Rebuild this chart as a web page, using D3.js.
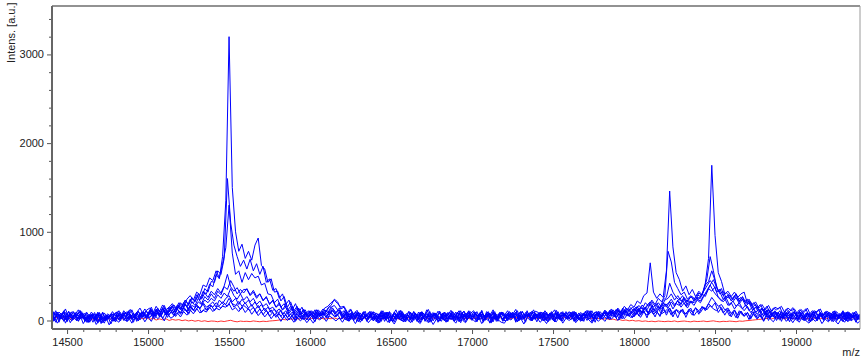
<!DOCTYPE html>
<html>
<head>
<meta charset="utf-8">
<script src="https://cdn.jsdelivr.net/npm/d3@7/dist/d3.min.js"></script>
<style>
  html, body { margin: 0; padding: 0; background: #fff; }
  svg { display: block; }
  text { font-family: "Liberation Sans", Arial, sans-serif; }
</style>
</head>
<body>
<svg id="chart" width="865" height="363"></svg>
<script>
// m/z sampling grids (every 20, two interleaved sample positions)
const mzGridA = d3.range(14400, 19401, 20);
const mzGridB = d3.range(14410, 19411, 20);

const xMajorTicks = [14500, 15000, 15500, 16000, 16500, 17000, 17500, 18000, 18500, 19000];
const yMajorTicks = [0, 1000, 2000, 3000];
const xAxisLabel = "m/z";
const yAxisLabel = "Intens. [a.u.]";

const trace1 = [
  70, -5, 95, 20, 60, -15, 85, 10, 55, 100,
  15, 80, -20, 65, 5, 90, -10, 50, 25, 75,
  -15, 70, 30, 95, 0, 60, 20, 105, 35, 80,
  40, 120, 55, 140, 70, 110, 60, 150, 90, 170,
  120, 200, 150, 240, 190, 290, 230, 330, 300, 410,
  380, 520, 470, 720, 1350, 3200, 1500, 1000, 780, 860,
  700, 780, 680, 850, 930, 620, 580, 430, 470, 320,
  330, 220, 270, 150, 210, 110, 160, 70, 130, 60,
  110, 40, 120, 55, 95, 30, 110, 140, 80, 120,
  30, 95, 10, 80, 25, 90, -5, 70, 15, 85,
  10, 75, -10, 90, 20, 60, -15, 85, 5, 70,
  25, 95, 0, 70, -20, 80, 15, 100, -5, 65,
  20, 85, -10, 60, 30, 95, 5, 75, -15, 90,
  15, 70, 40, 105, 0, 65, -20, 80, 25, 95,
  10, 85, 30, 60, -10, 90, 20, 110, 5, 70,
  -15, 75, 25, 95, 0, 80, 15, 65, -5, 100,
  20, 90, -10, 70, 35, 105, 10, 60, -20, 85,
  30, 95, 15, 110, 40, 80, 20, 120, 50, 95,
  40, 130, 60, 110, 30, 140, 70, 105, 45, 150,
  60, 140, 40, 120, 75, 130, 35, 115, 60, 145,
  70, 160, 110, 190, 150, 200, 90, 145, 60, 125,
  40, 115, 25, 105, 50, 90, 15, 100, 30, 80,
  -10, 85, 20, 95, 0, 75, 30, 90, -15, 70,
  25, 100, 5, 80, -10, 90, 15, 70, 35, 95,
  -5, 80, 20, 65, 0, 90, -15, 75, 25, 60,
  40
];

const trace2 = [
  30, 90, -20, 75, 10, 105, 25, 60, -10, 85,
  45, -15, 70, 0, 95, 20, -30, 60, 10, 80,
  35, -5, 90, 15, 65, -20, 85, 40, 100, 20,
  110, 45, 130, 60, 145, 80, 125, 170, 95, 180,
  150, 230, 170, 260, 210, 300, 250, 360, 320, 440,
  430, 560, 520, 700, 1600, 1100, 850, 720, 610, 680,
  580, 690, 560, 640, 520, 610, 430, 470, 340, 360,
  250, 300, 180, 230, 120, 190, 90, 150, 60, 110,
  40, 120, 30, 100, 70, 140, 170, 240, 210, 130,
  150, 60, 120, 30, 95, 10, 80, 40, 105, -5,
  60, 0, 85, 25, 100, -15, 70, 15, 90, 35,
  -10, 80, 20, 95, 5, 65, -25, 75, 30, 105,
  50, -5, 90, 10, 70, 30, 110, 0, 80, 20,
  95, 15, 60, -20, 85, 25, 100, 5, 70, -10,
  75, 35, 95, -5, 60, 20, 90, 40, 105, 10,
  85, 0, 70, 30, 100, -15, 80, 15, 65, 45,
  5, 90, 25, 70, -10, 95, 35, 80, 10, 100,
  60, 20, 100, 45, 85, 10, 115, 55, 90, 30,
  120, 50, 95, 140, 65, 110, 40, 130, 75, 100,
  135, 60, 110, 30, 120, 70, 95, 140, 55, 105,
  90, 150, 120, 170, 130, 110, 160, 85, 125, 50,
  95, 30, 110, 60, 85, 10, 100, 40, 75, 20,
  90, 0, 70, 35, 95, -10, 80, 25, 60, 100,
  15, 85, -5, 75, 30, 95, 0, 65, 20, 90,
  40, 105, 10, 80, -15, 70, 25, 90, 5, 60,
  35
];

const trace3 = [
  100, 20, 75, 45, 110, 0, 90, 30, 65, 115,
  25, 95, 40, 70, -10, 85, 15, 60, 35, 100,
  50, 110, 25, 85, 60, 120, 35, 90, 70, 130,
  80, 150, 60, 120, 100, 170, 85, 140, 175, 120,
  200, 160, 240, 280, 230, 320, 290, 400, 380, 480,
  450, 560, 480, 640, 820, 1300, 760, 520, 560, 430,
  540, 460, 530, 480, 500, 400, 420, 300, 290, 200,
  240, 150, 190, 110, 160, 80, 140, 60, 120, 50,
  100, 40, 120, 80, 130, 95, 160, 130, 90, 140,
  60, 120, 35, 95, 20, 80, 45, 105, 10, 75,
  90, 25, 110, 40, 80, 0, 95, 50, 115, 30,
  70, 10, 100, 45, 85, 20, 120, 55, 90, 5,
  105, 40, 80, 15, 95, 60, 110, 25, 85, 45,
  0, 90, 35, 115, 20, 75, 50, 100, 10, 95,
  60, 110, 25, 85, 45, 100, 15, 90, 55, 120,
  30, 95, 70, 10, 85, 40, 115, 20, 80, 50,
  100, 35, 90, 5, 75, 55, 110, 30, 95, 70,
  40, 115, 60, 100, 85, 130, 50, 120, 90, 145,
  100, 160, 80, 140, 120, 185, 95, 170, 130, 200,
  150, 210, 130, 190, 170, 230, 160, 220, 200, 260,
  240, 300, 270, 360, 330, 380, 260, 220, 250, 170,
  200, 130, 180, 150, 110, 160, 90, 130, 70, 110,
  50, 120, 30, 95, 60, 110, 20, 90, 40, 100,
  70, 10, 95, 35, 80, 0, 105, 45, 75, 25,
  90, 30, 110, 15, 80, 50, 100, 5, 85, 40,
  70
];

const trace4 = [
  -20, 55, 10, 80, -30, 60, 25, 90, -5, 45,
  30, -25, 65, 5, 80, -35, 50, 10, 70, -10,
  60, 15, 85, -15, 70, 30, 95, 5, 75, 40,
  90, 30, 115, 55, 130, 60, 150, 85, 120, 165,
  110, 180, 130, 210, 170, 250, 190, 270, 230, 300,
  250, 330, 290, 380, 350, 450, 380, 300, 350, 310,
  360, 290, 340, 270, 300, 230, 260, 190, 220, 150,
  180, 120, 150, 80, 130, 60, 110, 40, 95, 30,
  80, 20, 100, 50, 120, 90, 150, 170, 120, 80,
  110, 30, 85, 0, 70, 40, 95, -10, 60, 25,
  -15, 70, 20, 90, -25, 55, 10, 80, -5, 65,
  45, -20, 75, 5, 95, -10, 60, 30, 85, 0,
  20, 80, -15, 65, 35, 90, -5, 70, 15, 100,
  60, -10, 85, 25, 70, -30, 55, 15, 90, 5,
  -5, 75, 30, 95, 0, 60, -20, 85, 20, 70,
  35, 95, 0, 70, 45, -15, 80, 10, 65, 25,
  90, 5, 60, -10, 85, 30, 100, 0, 75, 40,
  20, 85, 50, 105, 30, 95, 60, 120, 45, 110,
  70, 135, 90, 150, 80, 170, 110, 160, 130, 190,
  140, 210, 160, 230, 180, 250, 170, 220, 200, 240,
  220, 280, 320, 400, 460, 370, 300, 330, 250, 280,
  230, 300, 210, 260, 190, 220, 150, 180, 110, 140,
  80, 130, 60, 110, 40, 100, 20, 85, 50, 95,
  10, 80, 35, 95, -10, 70, 25, 90, 0, 65,
  40, -15, 75, 20, 90, -5, 60, 30, 80, 10,
  50
];

const trace5 = [
  80, 10, 65, 30, 100, -5, 75, 40, 90, 15,
  55, -20, 70, 20, 45, -10, 85, 0, 60, 25,
  90, 5, 75, 40, 110, 20, 65, -5, 95, 30,
  50, 105, 20, 85, 45, 120, 35, 95, 60, 130,
  70, 140, 95, 160, 110, 180, 130, 200, 150, 175,
  210, 150, 230, 190, 250, 280, 210, 250, 180, 240,
  190, 230, 160, 210, 140, 180, 110, 150, 90, 130,
  60, 120, 40, 100, 30, 85, 20, 90, 10, 75,
  50, 100, 30, 85, 60, 110, 70, 120, 45, 95,
  20, 80, -10, 70, 35, 90, 5, 60, 25, 100,
  45, -15, 65, 15, 95, 0, 70, 30, 85, -5,
  60, 20, 100, -10, 75, 35, 90, 10, 55, 80,
  0, 70, 40, 95, 15, 60, -15, 85, 25, 105,
  35, 90, 5, 75, 50, 100, 20, 65, -10, 80,
  55, 0, 85, 30, 110, 10, 70, 45, 95, 15,
  75, 25, 95, -5, 65, 40, 90, 10, 80, 50,
  20, 100, 35, 85, 5, 70, 45, 110, 25, 90,
  60, 115, 75, 130, 70, 140, 95, 160, 120, 180,
  150, 220, 190, 280, 310, 650, 320, 250, 300, 260,
  560, 1460, 830, 540, 460, 330, 390, 290, 350, 270,
  330, 290, 420, 700, 1750, 960, 540, 440, 300, 330,
  270, 320, 260, 300, 320, 190, 210, 130, 160, 90,
  130, 60, 110, 40, 95, 20, 85, 50, 100, 10,
  75, 30, 90, 0, 65, 45, 100, 15, 80, 35,
  60, -10, 85, 25, 70, 5, 95, 40, 55, 20,
  60
];

const trace6 = [
  40, 110, 25, 85, 60, 95, 15, 75, 50, 100,
  0, 65, 35, 90, -15, 55, 20, 75, 45, -5,
  80, 20, 60, 100, 35, 85, 10, 70, 95, 45,
  100, 60, 120, 40, 135, 75, 110, 150, 90, 160,
  130, 190, 110, 170, 150, 210, 180, 230, 200, 250,
  220, 290, 250, 310, 270, 360, 280, 240, 300, 230,
  270, 210, 250, 180, 220, 160, 190, 130, 150, 100,
  130, 70, 110, 50, 95, 30, 80, 15, 70, 40,
  90, 20, 75, 50, 100, 60, 115, 90, 60, 105,
  35, 95, 15, 70, -10, 85, 25, 60, 40, 100,
  10, 80, 45, 95, -5, 65, 30, 110, 20, 70,
  90, 15, 75, 35, 100, 0, 60, 40, 85, -20,
  55, 95, 20, 70, -10, 90, 45, 105, 5, 75,
  40, 100, 10, 65, 35, 85, -15, 70, 50, 95,
  25, 90, 45, 75, 0, 105, 30, 60, -5, 80,
  50, 15, 90, 40, 70, 5, 100, 35, 85, 20,
  95, 30, 65, 10, 80, 50, 110, 20, 75, 45,
  70, 100, 50, 120, 80, 110, 65, 140, 100, 150,
  120, 170, 130, 200, 160, 230, 180, 250, 210, 280,
  780, 660, 430, 360, 290, 320, 240, 280, 220, 260,
  250, 340, 470, 720, 560, 370, 320, 240, 270, 250,
  210, 260, 190, 240, 160, 200, 120, 150, 90, 130,
  60, 115, 40, 100, 25, 90, 50, 105, 15, 80,
  45, 95, 10, 75, 40, 100, -5, 85, 30, 65,
  90, 20, 70, 45, 100, 5, 80, 35, 60, 15,
  55
];

const trace7 = [
  15, 90, 40, 70, -10, 85, 30, 100, 5, 60,
  80, 10, 55, -20, 75, 25, 95, 0, 50, 30,
  5, 80, 45, 20, 100, 10, 70, 40, 95, 55,
  70, 125, 45, 100, 60, 140, 80, 115, 55, 130,
  90, 150, 105, 170, 120, 160, 140, 185, 115, 175,
  150, 200, 165, 210, 180, 250, 190, 170, 215, 160,
  200, 140, 180, 120, 170, 100, 140, 85, 120, 60,
  100, 45, 90, 30, 75, 15, 80, 25, 65, 5,
  70, 20, 90, 45, 85, 35, 100, 60, 40, 95,
  60, 5, 80, 25, 100, -15, 65, 35, 90, 10,
  70, 30, 95, -10, 60, 20, 85, 40, 105, 0,
  25, 85, 50, 10, 95, 30, 70, -20, 80, 45,
  90, 15, 65, 40, 100, 0, 75, 25, 55, 110,
  10, 70, 45, 95, 20, 80, -10, 60, 35, 90,
  75, 0, 85, 30, 60, 100, 15, 70, 45, 95,
  30, 90, -5, 75, 50, 15, 80, 40, 100, 20,
  65, 35, 95, 5, 70, 45, 85, -15, 60, 105,
  40, 90, 70, 110, 55, 120, 85, 100, 130, 95,
  130, 90, 150, 120, 170, 210, 150, 190, 140, 230,
  260, 420, 320, 260, 230, 280, 200, 250, 270, 230,
  310, 280, 400, 440, 560, 450, 330, 360, 240, 290,
  220, 280, 230, 260, 210, 240, 170, 200, 140, 180,
  110, 160, 90, 140, 120, 150, 70, 130, 100, 145,
  70, 120, 95, 130, 60, 110, 80, 125, 40, 100,
  75, 20, 90, 45, 65, 10, 80, 30, 95, 5,
  55
];

const trace8 = [
  60, -20, 75, 15, 90, 30, -5, 70, 20, 85,
  -10, 50, 15, 70, -30, 40, -5, 60, -40, 35,
  45, 90, 0, 60, 25, 80, -10, 75, 40, 105,
  30, 85, 55, 110, 20, 95, 65, 120, 45, 100,
  85, 130, 70, 145, 100, 160, 90, 135, 120, 170,
  110, 165, 140, 190, 160, 220, 150, 180, 120, 170,
  140, 110, 150, 80, 130, 65, 115, 50, 90, 35,
  75, 20, 70, 5, 60, -10, 55, 15, 80, 0,
  50, -15, 70, 20, 85, 30, 95, 45, 65, 10,
  70, -5, 55, 20, 85, -20, 40, 10, 75, 0,
  35, -25, 60, 5, 80, -10, 50, 25, 70, -15,
  55, 10, 85, -20, 40, 20, 75, -5, 65, 30,
  -10, 60, 15, 90, 0, 45, -25, 70, 20, 55,
  40, -15, 75, 5, 55, 30, 85, -10, 60, 15,
  50, 20, 80, -20, 65, 10, 45, 75, -5, 60,
  10, 70, 35, -15, 85, 25, 55, -5, 80, 40,
  65, -10, 45, 20, 75, 0, 60, 35, 90, 15,
  30, 80, 10, 95, 45, 70, 20, 100, 60, 90,
  60, 120, 85, 110, 95, 150, 100, 140, 110, 170,
  190, 240, 180, 220, 150, 200, 140, 210, 170, 230,
  200, 270, 340, 400, 330, 280, 250, 210, 250, 170,
  220, 160, 200, 130, 180, 110, 150, 90, 130, 60,
  110, 40, 90, 20, 85, 30, 100, 0, 75, 25,
  -5, 70, 20, 85, -15, 60, 30, 90, 5, 50,
  25, 80, -10, 65, 35, 95, 0, 55, -20, 70,
  10
];

const trace9 = [
  -15, 45, -30, 30, 5, 55, -25, 40, -5, 60,
  -35, 25, -10, 40, -45, 15, -25, 35, -50, 20,
  10, -20, 50, -5, 35, -30, 45, 0, 60, -15,
  40, -10, 65, 20, 55, -5, 80, 25, 50, 90,
  40, 100, 60, 120, 75, 135, 85, 115, 95, 150,
  100, 140, 120, 160, 150, 190, 120, 145, 100, 155,
  90, 135, 70, 120, 55, 100, 40, 85, 20, 70,
  50, -10, 45, 0, 35, -20, 40, -5, 30, -25,
  20, -30, 35, 5, 45, -10, 50, 25, -5, 30,
  -20, 40, -5, 25, -35, 30, 0, 45, -25, 20,
  35, -30, 15, 40, -20, 10, -40, 30, 5, -15,
  25, -25, 45, 0, -35, 35, -10, 20, -45, 15,
  -5, 40, -20, 30, 10, -30, 45, 5, -25, 35,
  20, -15, 40, -35, 25, 0, -25, 45, 10, -20,
  -30, 30, 5, 50, -15, 25, -40, 35, 0, 20,
  40, -20, 15, -35, 35, 5, -15, 45, -30, 25,
  0, 35, -25, 20, -5, 50, 10, -30, 30, -10,
  30, -10, 45, 15, 55, 0, 60, 20, 70, 35,
  50, 85, 35, 95, 60, 110, 75, 100, 55, 120,
  90, 140, 80, 125, 100, 115, 70, 130, 95, 140,
  110, 150, 130, 190, 260, 210, 160, 180, 120, 140,
  80, 120, 60, 105, 45, 90, 30, 70, 15, 60,
  -5, 50, 20, -15, 40, 5, 55, -10, 35, -25,
  30, -20, 45, 0, -30, 25, -10, 40, -35, 15,
  -15, 35, 0, -40, 20, -20, 45, -5, 25, -30,
  5
];

const trace10 = [
  110, 40, 95, 60, 130, 35, 100, 70, 120, 45,
  80, 20, 95, 45, 70, 0, 85, 30, 75, 55,
  100, 35, 110, 60, 125, 50, 90, 140, 70, 115,
  140, 80, 160, 100, 175, 120, 150, 190, 130, 200,
  170, 230, 180, 250, 220, 280, 240, 310, 260, 330,
  290, 360, 310, 390, 520, 380, 330, 370, 300, 350,
  350, 280, 320, 250, 300, 220, 270, 180, 230, 150,
  200, 120, 180, 100, 160, 80, 140, 70, 120, 50,
  110, 60, 120, 80, 140, 160, 200, 230, 190, 150,
  160, 90, 130, 70, 115, 40, 100, 55, 90, 20,
  85, 40, 110, 25, 95, 60, 120, 30, 100, 15,
  105, 45, 85, 10, 95, 65, 125, 35, 80, 50,
  30, 95, 55, 115, 20, 90, 70, 105, 40, 80,
  110, 45, 90, 0, 100, 55, 120, 25, 85, 60,
  35, 100, 65, 125, 25, 95, 50, 80, 15, 105,
  90, 30, 110, 55, 75, 120, 20, 95, 60, 85,
  40, 105, 15, 90, 60, 115, 35, 80, 100, 25,
  90, 55, 115, 70, 125, 60, 140, 95, 120, 85,
  150, 100, 175, 130, 190, 210, 160, 200, 150, 230,
  250, 300, 230, 280, 220, 260, 210, 270, 240, 290,
  270, 330, 390, 450, 400, 320, 350, 280, 310, 280,
  250, 300, 220, 270, 200, 240, 170, 210, 140, 180,
  120, 170, 100, 150, 130, 160, 90, 140, 110, 130,
  70, 125, 90, 140, 60, 110, 95, 130, 50, 105,
  80, 30, 100, 55, 110, 20, 90, 45, 105, 35,
  75
];

const redTrace = [
  25, 40, 15, 35, 20, 45, 10, 30, 25, 38,
  18, 32, 8, 28, 12, 35, 5, 22, 15, 30,
  20, 35, 10, 30, 22, 40, 15, 28, 18, 33,
  12, 25, 5, 18, 8, 20, 0, 12, 4, 10,
  -2, 6, -5, 2, -8, 0, -10, -3, -12, -6,
  -8, -14, -6, -12, -4, 2, -9, -15, -7, -11,
  -9, -13, -5, -10, -14, -8, -12, -6, -3, 0,
  5, 12, 8, 18, 14, 22, 16, 25, 20, 28,
  22, 30, 18, 26, 15, 24, 20, 28, 17, 25,
  30, 18, 35, 22, 28, 15, 32, 20, 38, 24,
  20, 34, 16, 28, 36, 22, 30, 14, 26, 33,
  28, 18, 36, 24, 15, 30, 22, 38, 19, 27,
  35, 21, 29, 16, 32, 25, 40, 20, 28, 17,
  24, 36, 18, 30, 22, 34, 15, 27, 33, 21,
  31, 19, 26, 37, 20, 29, 16, 35, 23, 30,
  18, 32, 25, 20, 36, 22, 28, 17, 34, 26,
  29, 21, 35, 18, 27, 33, 19, 30, 24, 20,
  15, 22, 10, 16, 5, 10, 0, 6, -4, 2,
  -6, -2, -10, -5, -12, -8, -14, -6, -10, -13,
  -8, -12, -5, -14, -9, -6, -11, -15, -7, -12,
  -10, -6, -13, -8, -4, -11, -15, -9, -12, -7,
  -10, -14, -6, -9, -3, 0, 4, 8, 12, 15,
  20, 26, 18, 30, 22, 28, 16, 32, 24, 19,
  27, 21, 33, 18, 29, 25, 35, 20, 28, 23,
  30, 17, 26, 34, 21, 28, 19, 32, 25, 22,
  26
];

// which sampling grid each blue spectrum uses (drawing order: back to front)
const blueTraces = [
  { values: trace10, grid: mzGridB },
  { values: trace9,  grid: mzGridA },
  { values: trace8,  grid: mzGridB },
  { values: trace7,  grid: mzGridA },
  { values: trace6,  grid: mzGridB },
  { values: trace4,  grid: mzGridB },
  { values: trace3,  grid: mzGridA },
  { values: trace5,  grid: mzGridA },
  { values: trace2,  grid: mzGridB },
  { values: trace1,  grid: mzGridA }
];

[...blueTraces.map(t => t.values), redTrace].forEach((t, k) => {
  if (t.length !== mzGridA.length) throw new Error("series " + k + " has " + t.length + " values");
});

// ---------- drawing ----------
const svg = d3.select("#chart");
const plotLeft = 52, plotRight = 860, plotTop = 6, plotBottom = 329;

const x = d3.scaleLinear().domain([14407, 19395]).range([plotLeft, plotRight]);
const y = d3.scaleLinear().domain([-96, 3546]).range([plotBottom, plotTop]);

svg.append("defs").append("clipPath").attr("id", "plotClip")
  .append("rect").attr("x", plotLeft).attr("y", plotTop)
  .attr("width", plotRight - plotLeft).attr("height", plotBottom - plotTop);

const lineFor = grid => d3.line().x((d, i) => x(grid[i])).y(d => y(d));

const plot = svg.append("g").attr("clip-path", "url(#plotClip)");
plot.append("path").datum(redTrace)
  .attr("d", lineFor(mzGridB)).attr("fill", "none").attr("stroke", "#ff0000").attr("stroke-width", 0.8);
plot.selectAll("path.blue").data(blueTraces).enter().append("path")
  .attr("class", "blue")
  .attr("d", t => lineFor(t.grid)(t.values))
  .attr("fill", "none").attr("stroke", "#0000ff").attr("stroke-width", 1);

// frame (top and right)
svg.append("line").attr("x1", plotLeft).attr("x2", plotRight).attr("y1", plotTop).attr("y2", plotTop)
  .attr("stroke", "#6e6e6e").attr("stroke-width", 1.5);
svg.append("line").attr("x1", plotRight).attr("x2", plotRight).attr("y1", plotTop).attr("y2", plotBottom)
  .attr("stroke", "#9a9a9a").attr("stroke-width", 1);

// x axis
const xMinor = d3.range(14500, 19400, 100).filter(v => !xMajorTicks.includes(v));
const xAxisMajor = d3.axisBottom(x).tickValues(xMajorTicks).tickSize(5).tickPadding(4).tickFormat(d3.format("d"));
const xAxisMinor = d3.axisBottom(x).tickValues(xMinor).tickSize(3).tickFormat("");
const gxMin = svg.append("g").attr("transform", `translate(0,${plotBottom})`).call(xAxisMinor);
const gx = svg.append("g").attr("transform", `translate(0,${plotBottom})`).call(xAxisMajor);
[gx, gxMin].forEach(g => {
  g.select(".domain").remove();
  g.selectAll(".tick line").attr("stroke", "#555").attr("stroke-width", 1);
});
gx.selectAll(".tick text").attr("font-size", 11).attr("fill", "#222")
  .attr("font-family", "Liberation Sans, Arial, sans-serif");
svg.append("line").attr("x1", plotLeft).attr("x2", plotRight).attr("y1", plotBottom).attr("y2", plotBottom)
  .attr("stroke", "#666").attr("stroke-width", 2);

// y axis
const yMinor = d3.range(0, 3600, 200).filter(v => !yMajorTicks.includes(v));
const yAxisMajor = d3.axisLeft(y).tickValues(yMajorTicks).tickSize(5).tickPadding(3).tickFormat(d3.format("d"));
const yAxisMinor = d3.axisLeft(y).tickValues(yMinor).tickSize(3).tickFormat("");
const gyMin = svg.append("g").attr("transform", `translate(${plotLeft},0)`).call(yAxisMinor);
const gy = svg.append("g").attr("transform", `translate(${plotLeft},0)`).call(yAxisMajor);
[gy, gyMin].forEach(g => {
  g.select(".domain").remove();
  g.selectAll(".tick line").attr("stroke", "#555").attr("stroke-width", 1);
});
gy.selectAll(".tick text").attr("font-size", 11).attr("fill", "#222")
  .attr("font-family", "Liberation Sans, Arial, sans-serif");
svg.append("line").attr("x1", plotLeft).attr("x2", plotLeft).attr("y1", plotTop).attr("y2", plotBottom)
  .attr("stroke", "#666").attr("stroke-width", 2);

// axis titles
svg.append("text")
  .attr("transform", `translate(15,63) rotate(-90)`)
  .attr("text-anchor", "start")
  .attr("font-size", 11).attr("fill", "#222")
  .text(yAxisLabel);
svg.append("text")
  .attr("x", 860).attr("y", 356)
  .attr("text-anchor", "end")
  .attr("font-size", 11).attr("fill", "#222")
  .text(xAxisLabel);
</script>
</body>
</html>
